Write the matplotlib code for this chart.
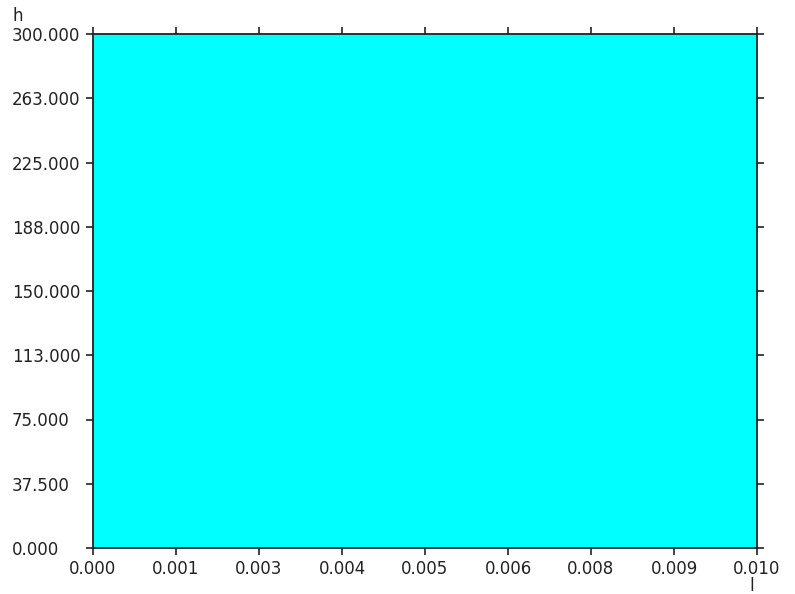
import matplotlib
matplotlib.use("Agg")
from matplotlib import pyplot as plt

# data
l_vals = [0.0, 0.010]
h_vals = [300.0, 300.0]

x_ticks = [0.0, 0.00125, 0.0025, 0.00375, 0.005, 0.00625, 0.0075, 0.00875, 0.010]
x_labels = ["0.000", "0.001", "0.003", "0.004", "0.005", "0.006", "0.008", "0.009", "0.010"]
y_ticks = [0.0, 37.5, 75.0, 112.5, 150.0, 187.5, 225.0, 262.5, 300.0]
y_labels = ["0.000", "37.500", "75.000", "113.000", "150.000",
            "188.000", "225.000", "263.000", "300.000"]

plt.rcParams['font.family'] = ['DejaVu Sans']
plt.rcParams['font.size'] = 12

W, H = 795, 594
fig = plt.figure(figsize=(W / 100, H / 100), dpi=100)
left, right, top, bottom = 93, 757, 34, 548
ax = fig.add_axes([left / W, 1 - bottom / H, (right - left) / W, (bottom - top) / H])

ax.fill_between(l_vals, 0, h_vals, color="#00ffff", linewidth=0)
ax.set_xlim(l_vals[0], l_vals[-1])
ax.set_ylim(0, 300)

ax.set_xticks(x_ticks)
ax.set_xticklabels(x_labels)
ax.set_yticks(y_ticks)
ax.set_yticklabels(y_labels)

for side in ax.spines.values():
    side.set_linewidth(1.3)
    side.set_color("#222222")

ax.tick_params(direction="out", length=5, width=1.2, color="#222222",
               top=True, right=True, labelcolor="#222222")
ax.tick_params(axis="x", pad=4)
# y labels are left aligned at the figure edge
ax.tick_params(axis="y", pad=(left - 7 - 12) * 0.72)
for t in ax.get_yticklabels():
    t.set_ha("left")

fig.text(12 / W, 1 - 16 / H, "h", ha="left", va="center", color="#222222")
fig.text(749 / W, 1 - 586 / H, "l", ha="left", va="center", color="#222222")

fig.savefig("out.png", dpi=100)
